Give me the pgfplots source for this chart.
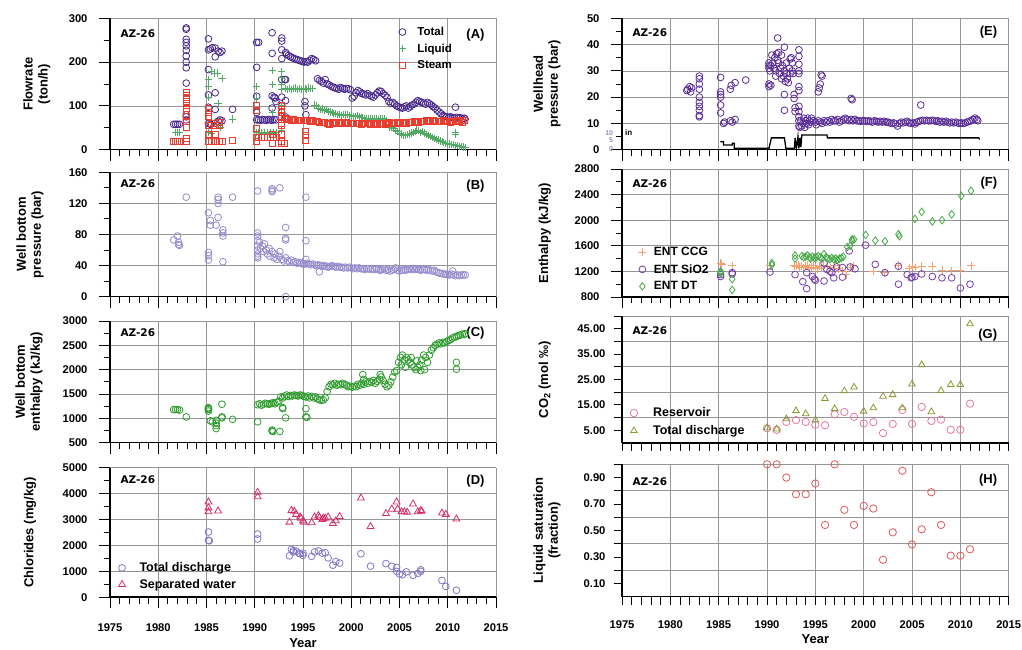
\documentclass[border=0pt]{standalone}
\usepackage{fontspec}
\setmainfont{Liberation Sans}
\newfontfamily\azfont{DejaVu Sans}
\usepackage{pgfplots}
\pgfplotsset{compat=1.18}
\definecolor{cTot}{RGB}{72,40,140}
\definecolor{cLiq}{RGB}{80,170,100}
\definecolor{cSteam}{RGB}{235,60,45}
\definecolor{cLav}{RGB}{150,140,205}
\definecolor{cGrn}{RGB}{45,155,45}
\definecolor{cCl}{RGB}{130,120,200}
\definecolor{cSep}{RGB}{215,45,100}
\definecolor{cE}{RGB}{90,45,150}
\definecolor{cCCG}{RGB}{245,160,110}
\definecolor{cSiO}{RGB}{120,60,170}
\definecolor{cDT}{RGB}{70,170,70}
\definecolor{cRes}{RGB}{230,120,160}
\definecolor{cTD}{RGB}{140,150,50}
\definecolor{cH}{RGB}{225,90,90}
\definecolor{cGrid}{RGB}{150,150,150}
\newcommand{\tl}{\fontsize{11.2}{13}\selectfont\bfseries}
\pgfplotsset{
  every non boxed x axis/.style={},
  every non boxed y axis/.style={},
  panel/.style={
    scale only axis, width=386pt,
    xmin=1975, xmax=2015, enlargelimits=false,
    axis lines=left,
    axis line style={line width=1.6pt,-},
    tick align=outside,
    xtick={1975,1980,...,2015}, minor x tick num=4,
    major tick length=11pt, minor tick length=6.5pt,
    tick style={black, line width=0.9pt},
    xmajorgrids, ymajorgrids,
    grid style={cGrid, line width=0.6pt},
    minor grid style={cGrid, line width=0.6pt},
    tick label style={font=\tl},
    yticklabel style={xshift=-8pt},
    xticklabel style={yshift=-12pt},
    /pgf/number format/assume math mode=true,
    /pgf/number format/1000 sep={},
    scaled ticks=false,
    label style={font=\fontsize{13}{15}\selectfont\bfseries, align=center},
    clip=false,
    legend cell align=left,
  },
  nox/.style={xticklabels={}},
  ylab/.style={ylabel style={at={(axis description cs:#1,0.5)}, anchor=center}},
  circ/.style={only marks, mark=o, mark size=3.4pt},
  leg/.style n args={5}{legend style={draw=none, fill=none, at={(axis description cs:#1,#2)}, anchor=north west,
    font=\fontsize{#3}{14}\selectfont\bfseries, row sep=#4,
    nodes={inner xsep=#5}}},
}
\newcommand{\tags}[3]{%
  \node[anchor=west, font=\azfont\fontsize{10.5}{12}\selectfont\bfseries] at ([xshift=7pt,yshift=-#2pt]rel axis cs:0,1) {AZ-26};
  \node[anchor=east, font=\fontsize{13}{15}\selectfont\bfseries] at ([xshift=-8pt,yshift=-#3pt]rel axis cs:1,1) {(#1)};
}
\begin{document}
\begin{tikzpicture}
\useasboundingbox (0,0) rectangle (1022pt,650pt);

% ---------------- (A)
\begin{axis}[panel, nox, at={(110pt,500.3pt)}, anchor=south west, height=131.4pt,
  ymin=0, ymax=300, ytick={0,100,200,300}, minor ytick={50,150,250},
  ylabel={Flowrate\\(ton/h)}, ylab=-0.19,
  leg={0.74}{0.965}{11.5}{3pt}{11.3pt}]
\addplot[circ, color=cTot, mark options={draw=cTot, line width=0.8pt}] coordinates {
(1981.6,58)(1981.8,58)(1982.0,58)(1982.2,58)
(1982.9,278)(1982.9,275)(1982.9,252)(1982.9,245)(1982.9,237)(1982.9,227)(1982.9,214)(1982.9,200)(1982.9,187)(1982.9,152)(1982.9,80)(1982.9,75)(1982.9,68)
(1985.2,253)(1985.2,228)(1985.2,183)(1985.2,125)(1985.2,97)(1985.2,60)
(1985.4,230)(1985.4,58)(1985.6,233)
(1985.9,232)(1985.9,212)(1985.9,130)(1985.9,92)(1985.9,60)
(1986.2,225)(1986.2,65)(1986.4,222)(1986.4,68)(1986.6,225)(1986.6,66)
(1987.7,92)
(1990.2,245)(1990.2,188)(1990.2,122)(1990.2,85)(1990.2,68)
(1990.4,245)(1990.4,68)(1990.6,67)(1990.8,69)(1991.0,68)(1991.2,67)(1991.4,69)(1991.6,68)(1991.8,67)(1992.0,69)(1992.2,68)
(1991.8,267)(1991.8,220)(1991.8,123)(1991.8,95)
(1992.0,120)(1992.1,118)(1992.2,110)
(1992.8,255)(1992.8,248)(1992.8,228)(1992.8,208)(1992.8,160)(1992.8,120)(1992.8,100)(1992.8,85)
(1993.1,160)(1993.2,222)(1993.2,160)(1993.2,112)(1993.2,75)
(1995.2,110)(1995.2,100)(1995.3,80)
(1993.3,218)(1993.5,215)(1993.7,212)(1993.9,210)(1994.1,208)(1994.3,206)(1994.5,205)(1994.7,203)(1994.9,202)(1995.1,200)(1995.3,201)(1995.5,200)(1995.7,204)(1995.9,208)(1996.1,206)(1996.3,203)
(1996.5,162)(1996.7,158)(1996.9,156)(1997.1,152)(1997.3,160)(1997.5,150)(1997.7,148)(1997.9,145)(1998.1,143)(1998.3,141)(1998.5,140)(1998.7,138)(1998.9,142)(1999.1,140)(1999.3,138)(1999.5,140)(1999.7,139)(1999.9,137)
(2000.1,118)(2000.3,122)(2000.5,130)(2000.7,135)(2000.9,132)(2001.1,128)(2001.3,127)(2001.5,125)(2001.7,128)(2001.9,124)(2002.1,122)(2002.3,120)(2002.5,125)(2002.7,130)(2002.9,134)(2003.1,133)(2003.3,128)(2003.5,124)(2003.7,120)(2003.9,110)
(2004.1,106)(2004.3,108)(2004.5,104)(2004.7,100)(2004.9,98)(2005.1,96)(2005.3,95)(2005.5,98)(2005.7,100)(2005.9,95)(2006.1,98)(2006.3,102)(2006.5,104)(2006.7,108)(2006.9,112)(2007.1,110)(2007.3,108)(2007.5,106)(2007.7,104)(2007.9,108)
(2008.1,105)(2008.3,102)(2008.5,98)(2008.7,95)(2008.9,90)(2009.1,86)(2009.3,82)(2009.5,78)(2009.7,76)(2009.9,75)(2010.1,74)(2010.3,75)(2010.5,73)(2010.7,72)(2010.8,97)(2010.9,74)(2011.1,72)(2011.3,73)(2011.5,71)(2011.7,72)(2011.8,70)
};
\addlegendentry{Total}
\addplot[only marks, mark=+, mark size=3.6pt, color=cLiq, mark options={draw=cLiq, line width=0.8pt}] coordinates {
(1981.8,40)(1982.0,40)(1982.2,40)
(1985.2,160)(1985.2,145)(1985.2,120)(1985.2,40)
(1985.5,178)(1985.5,38)(1985.8,175)(1986.1,175)(1986.6,163)
(1986.2,105)(1986.2,58)(1986.4,50)(1987.7,70)
(1990.2,145)(1990.2,118)(1990.2,40)
(1990.4,40)(1990.7,38)(1991.0,40)(1991.3,38)(1991.6,40)(1991.9,38)(1992.2,40)
(1991.8,180)(1991.8,148)(1991.8,85)
(1992.8,178)(1992.8,165)(1992.8,150)(1992.8,138)(1992.8,100)(1992.8,85)(1992.8,45)
(1993.2,140)(1993.2,75)
(1993.4,138)(1993.6,140)(1993.8,137)(1994.0,139)(1994.2,141)(1994.4,138)(1994.6,140)(1994.8,138)(1995.0,139)(1995.2,140)(1995.4,138)(1995.6,141)(1995.8,140)(1996.0,139)
(1996.2,102)(1996.4,100)(1996.6,95)(1996.8,92)(1997.0,93)(1997.2,90)(1997.4,92)(1997.6,88)(1997.8,86)(1998.0,85)(1998.2,83)(1998.4,82)(1998.6,80)(1998.8,80)(1999.0,78)(1999.2,80)(1999.4,79)(1999.6,80)(1999.8,78)
(2000.0,78)(2000.2,76)(2000.4,75)(2000.6,78)(2000.8,76)(2001.0,74)(2001.2,73)(2001.4,72)(2001.6,72)(2001.8,70)(2002.0,71)(2002.2,70)(2002.4,72)(2002.6,70)(2002.8,69)(2003.0,70)(2003.2,71)(2003.4,70)(2003.6,66)(2003.8,58)
(2004.0,52)(2004.2,50)(2004.4,48)(2004.6,45)(2004.8,42)(2005.0,38)(2005.2,36)(2005.4,32)(2005.6,33)(2005.8,35)(2006.0,36)(2006.2,38)(2006.4,40)(2006.6,42)(2006.8,45)(2007.0,44)(2007.2,40)(2007.4,42)(2007.6,38)(2007.8,35)
(2008.0,32)(2008.2,30)(2008.4,28)(2008.6,26)(2008.8,24)(2009.0,22)(2009.2,20)(2009.4,18)(2009.6,17)(2009.8,15)(2010.0,14)(2010.2,13)(2010.4,12)(2010.6,11)(2010.8,10)(2011.0,9)(2011.2,8)(2011.4,7)(2011.6,6)(2011.8,5)
(2010.8,40)(2010.8,35)
};
\addlegendentry{Liquid}
\addplot[only marks, mark=square, mark size=3pt, color=cSteam, mark options={draw=cSteam, line width=0.8pt},
  legend image code/.code={\draw[draw=cSteam, line width=0.8pt] (0.3cm-3pt,-3pt) rectangle (0.3cm+3pt,3pt);}] coordinates {
(1981.6,20)(1981.8,20)(1982.0,20)(1982.2,20)
(1982.9,130)(1982.9,125)(1982.9,120)(1982.9,115)(1982.9,110)(1982.9,105)(1982.9,100)(1982.9,95)(1982.9,75)(1982.9,65)(1982.9,50)(1982.9,25)(1982.9,20)
(1985.2,95)(1985.2,85)(1985.2,75)(1985.2,55)(1985.2,35)(1985.2,20)
(1985.5,60)(1985.5,18)(1985.9,55)(1985.9,35)(1985.9,20)(1986.3,62)(1986.3,55)(1986.3,18)(1986.6,20)
(1987.7,22)
(1990.2,100)(1990.2,90)(1990.2,48)(1990.2,28)(1990.2,20)
(1990.4,28)(1990.7,27)(1991.0,28)(1991.3,27)(1991.6,28)(1991.9,27)(1992.2,28)
(1991.8,35)(1991.8,15)
(1992.8,100)(1992.8,92)(1992.8,85)(1992.8,75)(1992.8,60)(1992.8,55)(1992.8,35)(1992.8,20)(1992.8,15)
(1993.1,70)(1993.1,15)
(1995.2,41)(1995.2,33)(1995.3,22)
(1993.3,72)(1993.5,70)(1993.75,68)(1994.0,70)(1994.25,68)(1994.5,67)(1994.75,68)(1995.0,66)(1995.25,67)(1995.5,66)(1995.75,65)(1996.0,66)(1996.25,65)(1996.5,64)(1996.75,63)(1997.0,63)(1997.25,62)(1997.5,60)(1997.75,58)
(1998.0,62)(1998.25,61)(1998.5,60)(1998.75,62)(1999.0,60)(1999.25,61)(1999.5,62)(1999.75,60)(2000.0,61)(2000.25,60)(2000.5,59)(2000.75,60)(2001.0,58)(2001.25,60)(2001.5,59)(2001.75,60)(2002.0,58)(2002.25,59)(2002.5,60)(2002.75,58)
(2003.0,59)(2003.25,60)(2003.5,58)(2003.75,60)(2004.0,62)(2004.25,60)(2004.5,61)(2004.75,62)(2005.0,60)(2005.25,61)(2005.5,62)(2005.75,60)(2006.0,62)(2006.25,63)(2006.5,64)(2006.75,65)(2007.0,63)(2007.25,65)(2007.5,64)(2007.75,66)
(2008.0,65)(2008.25,64)(2008.5,66)(2008.75,65)(2009.0,64)(2009.25,65)(2009.5,66)(2009.75,64)(2010.0,65)(2010.25,63)(2010.5,65)(2010.75,64)(2011.0,66)(2011.25,65)(2011.5,63)(2011.75,66)
};
\addlegendentry{Steam}
\tags{A}{15}{17}
\end{axis}

% ---------------- (B)
\begin{axis}[panel, nox, at={(110pt,353.3pt)}, anchor=south west, height=124.4pt,
  ymin=0, ymax=160, ytick={0,40,80,120,160}, minor ytick={20,60,100,140},
  ylabel={Well bottom\\pressure (bar)}, ylab=-0.207]
\addplot[circ, color=cLav, mark options={draw=cLav, line width=0.8pt}] coordinates {
(1981.6,73)(1982.0,78)(1982.1,70)(1982.1,67)(1982.2,66)(1982.9,128)
(1985.2,108)(1985.2,57)(1985.2,53)(1985.2,47)(1985.4,98)(1985.4,92)(1986.0,92)
(1986.2,128)(1986.2,125)(1986.2,120)(1986.2,102)(1986.7,86)(1986.7,82)(1986.7,78)(1986.7,45)(1987.7,128)
(1990.3,136)(1990.3,82)(1990.3,78)(1990.3,72)(1990.3,65)(1990.3,60)(1990.3,55)(1990.3,52)(1990.3,50)
(1991.8,139)(1991.8,137)(1991.8,135)(1992.6,140)
(1993.2,89)(1993.2,75)(1993.2,73)(1993.2,50)(1993.2,0)
(1995.3,128)(1995.3,72)(1995.3,48)(1996.7,32)
(1990.5,70)(1990.6,62)(1990.8,65)(1990.9,58)(1991.0,68)(1991.2,60)(1991.3,55)(1991.5,62)(1991.6,52)(1991.8,58)(1992.0,50)(1992.1,55)(1992.3,48)(1992.5,52)(1992.6,58)(1992.8,48)
(1993.0,46)(1993.4,46)(1993.6,45)(1993.8,47)(1994.0,44)(1994.2,45)(1994.4,43)(1994.6,44)(1994.8,43)(1995.0,42)(1995.2,42)(1995.4,43)(1995.6,42)(1995.8,41)(1996.0,42)(1996.2,41)(1996.4,40)(1996.6,41)(1996.8,40)
(1997.0,39)(1997.2,40)(1997.4,39)(1997.6,38)(1997.8,39)(1998.0,40)(1998.2,39)(1998.4,38)(1998.6,39)(1998.8,38)(1999.0,38)(1999.2,37)(1999.4,38)(1999.6,37)(1999.8,38)(2000.0,37)(2000.2,36)(2000.4,37)(2000.6,36)(2000.8,37)
(2001.0,36)(2001.2,36)(2001.4,35)(2001.6,36)(2001.8,36)(2002.0,35)(2002.2,36)(2002.4,35)(2002.6,36)(2002.8,35)(2003.0,34)(2003.2,35)(2003.4,36)(2003.6,34)(2003.8,35)(2004.0,33)(2004.2,34)(2004.4,35)(2004.6,37)(2004.8,34)
(2005.0,33)(2005.2,34)(2005.4,35)(2005.6,34)(2005.8,35)(2006.0,36)(2006.2,35)(2006.4,36)(2006.6,35)(2006.8,36)(2007.0,35)(2007.2,34)(2007.4,35)(2007.6,35)(2007.8,34)(2008.0,35)(2008.2,34)(2008.4,33)(2008.6,34)(2008.8,32)
(2009.0,31)(2009.2,30)(2009.4,30)(2009.6,29)(2009.8,29)(2010.0,28)(2010.2,28)(2010.4,29)(2010.5,33)(2010.6,28)(2010.8,27)(2011.0,28)(2011.2,27)(2011.4,28)(2011.6,28)(2011.8,28)
};
\tags{B}{11}{14}
\end{axis}

% ---------------- (C)
\begin{axis}[panel, nox, at={(110pt,207.3pt)}, anchor=south west, height=121.7pt,
  ymin=500, ymax=3000, ytick={500,1000,...,3000}, minor ytick={750,1250,1750,2250,2750},
  ylabel={Well bottom\\enthalpy (kJ/kg)}, ylab=-0.21]
\addplot[circ, color=cGrn, mark options={draw=cGrn, line width=0.8pt}] coordinates {
(1981.6,1180)(1981.8,1180)(1982.0,1180)(1982.2,1170)(1982.9,1030)
(1985.2,1220)(1985.2,1200)(1985.2,1180)(1985.2,1150)(1985.4,950)(1985.6,930)
(1986.0,960)(1986.0,900)(1986.0,850)(1986.0,790)(1986.6,1290)(1986.6,1030)(1986.6,1010)(1987.7,980)
(1990.3,930)(1991.8,760)(1991.8,740)(1991.9,730)(1992.6,730)(1992.9,1220)(1992.9,1200)(1993.2,1010)
(1995.3,1200)(1995.3,1030)(1995.4,1020)(2001.2,1900)(2001.3,1800)(2010.9,2150)(2010.9,2010)
(1990.3,1280)(1990.5,1300)(1990.7,1270)(1990.9,1290)(1991.1,1310)(1991.3,1300)(1991.5,1290)(1991.7,1310)(1991.9,1320)(1992.1,1300)(1992.3,1330)(1992.5,1350)(1992.7,1440)(1992.9,1420)
(1993.1,1460)(1993.3,1480)(1993.5,1450)(1993.7,1470)(1993.9,1460)(1994.1,1480)(1994.3,1470)(1994.5,1460)(1994.7,1480)(1994.9,1470)(1995.1,1450)(1995.3,1440)(1995.5,1460)(1995.7,1420)(1995.9,1450)
(1996.1,1420)(1996.3,1440)(1996.5,1400)(1996.7,1380)(1996.9,1370)(1997.1,1380)(1997.3,1420)(1997.5,1550)(1997.7,1650)(1997.9,1700)(1998.1,1690)(1998.3,1720)(1998.5,1680)(1998.7,1700)(1998.9,1690)
(1999.1,1720)(1999.3,1700)(1999.5,1680)(1999.7,1650)(1999.9,1660)(2000.1,1640)(2000.3,1660)(2000.5,1650)(2000.7,1700)(2000.9,1680)(2001.1,1720)(2001.3,1700)(2001.5,1750)(2001.7,1720)(2001.9,1760)
(2002.1,1740)(2002.3,1780)(2002.5,1720)(2002.7,1760)(2002.9,1800)(2003.0,1900)(2003.1,1850)(2003.3,1780)(2003.5,1700)(2003.7,1650)(2003.9,1680)(2004.1,1750)(2004.3,1850)(2004.5,1950)(2004.7,1980)(2004.9,2150)
(2005.1,2250)(2005.2,2100)(2005.3,2300)(2005.5,2200)(2005.6,2050)(2005.7,2250)(2005.9,2200)(2006.1,2150)(2006.2,2250)(2006.3,2100)(2006.5,2050)(2006.7,2000)(2006.8,2180)(2006.9,2050)
(2007.1,2100)(2007.2,1980)(2007.3,2200)(2007.5,2300)(2007.6,2000)(2007.7,2250)(2007.9,2150)(2008.1,2300)(2008.3,2400)(2008.5,2450)(2008.7,2500)(2008.9,2520)
(2009.1,2550)(2009.3,2530)(2009.5,2560)(2009.7,2550)(2009.9,2580)(2010.1,2600)(2010.3,2620)(2010.5,2650)(2010.7,2670)(2010.9,2680)(2011.1,2700)(2011.3,2710)(2011.5,2730)(2011.7,2720)(2011.8,2740)
};
\tags{C}{12}{12}
\end{axis}

% ---------------- (D)
\begin{axis}[panel, at={(110pt,52.7pt)}, anchor=south west, height=129.6pt,
  ymin=0, ymax=5000, ytick={0,1000,...,5000}, minor ytick={500,1500,2500,3500,4500},
  ylabel={Chlorides (mg/kg)}, ylab=-0.207, xlabel={Year},
  leg={0.014}{0.30}{12.5}{2pt}{14pt}]
\addplot[circ, color=cCl, mark options={draw=cCl, line width=0.8pt}] coordinates {
(1985.2,2520)(1985.2,2200)(1985.3,2180)(1990.3,2440)(1990.3,2250)
(1993.6,1600)(1993.8,1850)(1994.0,1800)(1994.0,1750)(1994.3,1780)(1994.6,1700)(1994.7,1680)(1995.0,1620)(1995.0,1700)
(1995.9,1580)(1996.2,1750)(1996.6,1790)(1997.0,1700)(1997.3,1720)(1997.6,1520)(1998.1,1240)(1998.4,1380)(1998.8,1320)
(2001.0,1680)(2002.0,1200)(2003.6,1300)(2004.2,1200)(2004.7,1150)(2004.7,1000)(2005.0,900)(2005.3,870)(2005.7,980)(2006.4,850)(2006.9,920)(2007.2,1000)(2007.2,1060)
(2009.4,650)(2009.8,420)(2010.9,270)
};
\addlegendentry{Total discharge}
\addplot[only marks, mark=triangle, mark size=4pt, color=cSep, mark options={draw=cSep, line width=0.8pt}] coordinates {
(1985.2,3680)(1985.2,3450)(1985.2,3300)(1986.2,3330)(1990.3,4050)(1990.3,3880)
(1993.6,2900)(1993.8,3350)(1994.1,3320)(1994.3,3200)(1994.7,3100)(1994.8,3050)(1995.0,2950)(1995.1,2900)
(1995.9,2880)(1996.2,3100)(1996.6,3150)(1996.7,3080)(1997.0,3000)(1997.1,3050)(1997.3,3050)(1997.6,3100)(1998.1,2850)(1998.4,2950)(1998.8,3120)
(2001.0,3830)(2002.0,2730)(2003.6,3230)(2004.2,3400)(2004.7,3680)(2004.8,3400)(2005.2,3300)(2005.5,3300)(2005.8,3280)(2006.4,3600)(2006.9,3300)(2007.2,3350)(2007.3,3320)
(2009.4,3250)(2009.8,3200)(2010.9,3020)
};
\addlegendentry{Separated water}
\tags{D}{12}{13}
\end{axis}

% ---------------- (E)
\begin{axis}[panel, nox, at={(622pt,500.3pt)}, anchor=south west, height=131.4pt, width=386.7pt,
  ymin=0, ymax=50, ytick={0,10,...,50}, minor ytick={5,15,25,35,45},
  ylabel={Wellhead\\pressure (bar)}, ylab=-0.194]
\addplot[circ, color=cE, mark options={draw=cE, line width=0.8pt}] coordinates {
(1981.7,22.5)(1981.8,23)(1982.0,24)(1982.1,22)(1982.2,23.5)
(1983.0,28)(1983.0,27)(1983.0,25)(1983.0,23)(1983.0,20)(1983.0,18)(1983.0,16.5)(1983.0,15)(1983.0,13)(1983.0,12.5)
(1985.2,27.5)(1985.2,22)(1985.2,21)(1985.2,20)(1985.2,17)(1985.2,14)(1985.5,10)(1985.6,10.5)
(1986.2,23)(1986.3,24.5)(1986.2,11)(1986.4,10.5)(1986.7,25.5)(1986.7,11.5)(1987.8,26.5)
(1990.2,24)(1990.2,25)(1990.2,31)(1990.2,33)(1990.2,32)
(1990.3,30)(1990.4,32)(1990.5,36)(1990.6,33)(1990.7,31)(1990.8,35)(1990.9,30)(1991.0,36.5)(1991.1,42.5)(1991.1,34)(1991.2,33)(1991.3,29)(1991.4,31)(1991.5,27)(1991.5,36)(1991.6,32)(1991.7,28)
(1991.8,39)(1991.8,30)(1991.9,26)(1992.0,29)(1992.0,33)(1992.1,27)(1992.2,25.5)(1992.3,31)(1992.4,29)(1992.5,35)(1992.6,33)(1992.6,30)(1992.7,29)(1991.8,21)(1991.8,15)(1990.4,24.5)(1990.9,28)(1991.2,37)(1992.4,34.5)
(1992.8,21)(1992.8,19.5)(1992.9,16)(1992.9,14.5)
(1993.3,38)(1993.3,35.5)(1993.3,32.5)(1993.3,30)(1993.3,29)(1993.3,24)(1993.3,22.5)(1993.3,16.5)(1993.3,14.5)(1993.3,12.5)(1993.3,11)(1993.3,9)(1993.4,8.5)
(1995.3,22)(1995.4,23.5)(1995.5,25)(1995.6,28.5)(1995.7,28)(1995.1,9.5)(1998.7,19.5)(1998.8,19)(2005.9,17)
(1993.5,11)(1993.6,9)(1993.7,10)(1993.8,12)(1993.9,8.5)(1994.0,11)(1994.1,10)(1994.2,12)(1994.3,9.5)(1994.4,11)(1994.5,10.5)(1994.6,12)(1994.8,11)(1995.0,10.5)(1995.3,11)(1995.5,10.5)(1995.7,10)(1995.9,11)
(1996.1,10.5)(1996.3,11)(1996.5,10.5)(1996.7,11.5)(1996.9,11)(1997.1,11)(1997.3,11.5)(1997.5,10.5)(1997.7,11)(1997.9,11.5)(1998.1,12)(1998.3,11.5)(1998.5,11)(1998.7,11.5)(1998.9,11)
(1999.1,11.5)(1999.3,11)(1999.5,11)(1999.7,10.8)(1999.9,11)(2000.1,11)(2000.3,10.8)(2000.5,11)(2000.7,10.8)(2000.9,10.5)(2001.1,11)(2001.3,10.8)(2001.5,10.5)(2001.7,10.8)(2001.9,10.5)
(2002.1,10.8)(2002.3,10.5)(2002.5,10.5)(2002.7,10.2)(2002.9,10)(2003.1,10.2)(2003.3,9.8)(2003.5,9)(2003.7,10)(2003.9,10.5)(2004.1,10.2)(2004.3,10.5)(2004.5,10.8)(2004.7,10.2)(2004.9,10)
(2005.1,10.2)(2005.3,9.8)(2005.5,10.5)(2005.7,10.8)(2005.9,11)(2006.1,11.2)(2006.3,11)(2006.5,11.2)(2006.7,11)(2006.9,11)(2007.1,11.2)(2007.3,11)(2007.5,10.8)(2007.7,11)(2007.9,10.5)
(2008.1,10.8)(2008.3,10.5)(2008.5,10.8)(2008.7,10.5)(2008.9,10.2)(2009.1,10.5)(2009.3,10.2)(2009.5,10.5)(2009.7,10.2)(2009.9,10)(2010.1,10.2)(2010.3,10)(2010.5,10.2)(2010.7,10.5)(2010.9,10.8)
(2011.1,11)(2011.3,11.5)(2011.5,12)(2011.7,11.5)(2011.8,11)
};
\addplot[black, line width=1.3pt, mark=none] coordinates {
(1985.17,3.0)(1985.5,3.0)(1985.5,1.8)(1986.4,1.8)(1986.4,2.4)(1986.6,2.4)(1986.6,0.5)(1990.2,0.5)(1990.45,4.5)(1991.8,4.5)(1991.95,0.5)(1992.85,0.5)(1992.9,4.5)(1993.05,0.5)(1993.2,5.0)(1993.3,0.5)(1993.4,4.5)(1993.5,1.0)(1993.6,5.6)(1996.2,5.6)(1996.25,4.5)(2011.9,4.5)(2012.0,3.9)
};
\node[anchor=east, font=\fontsize{7}{8}\selectfont\bfseries, text=cLav, inner sep=0pt] at (axis cs:1974.1,6.47) {10};
\node[anchor=east, font=\fontsize{7}{8}\selectfont\bfseries, text=cLav, inner sep=0pt] at (axis cs:1974.1,3.7) {5};
\node[anchor=east, font=\fontsize{7}{8}\selectfont\bfseries, text=cLav, inner sep=0pt] at (axis cs:1974.1,0.2) {0};
\node[anchor=west, font=\fontsize{8}{9}\selectfont\bfseries, inner sep=0pt] at (axis cs:1975.3,6.6) {in};
\tags{E}{14}{14}
\end{axis}

% ---------------- (F)
\begin{axis}[panel, nox, at={(622pt,353pt)}, anchor=south west, height=128pt, width=386.7pt,
  ymin=800, ymax=2800, ytick={800,1200,...,2800}, minor ytick={1000,1400,1800,2200,2600},
  ylabel={Enthalpy (kJ/kg)}, ylab=-0.20,
  leg={0.034}{0.42}{12}{3pt}{7.5pt}]
\addplot[only marks, mark=+, mark size=4pt, color=cCCG, mark options={draw=cCCG, line width=0.8pt}] coordinates {
(1985.2,1330)(1985.3,1310)(1986.4,1290)(1990.3,1290)
(1992.8,1290)(1993.0,1280)(1993.2,1300)(1993.4,1270)(1993.6,1290)(1993.8,1260)(1994.0,1280)(1994.2,1300)(1994.4,1250)(1994.6,1270)(1994.8,1290)(1995.0,1260)(1995.2,1240)(1995.4,1280)(1995.6,1250)(1995.8,1300)
(1996.2,1280)(1996.6,1260)(1997.0,1290)(1997.4,1240)(1997.8,1200)(1998.2,1150)(1998.6,1260)(1998.9,1290)
(2001.0,1200)(2002.1,1180)(2003.6,1300)(2004.7,1250)(2005.0,1280)(2005.3,1260)(2006.0,1280)(2007.1,1280)(2008.1,1220)(2009.1,1210)(2010.0,1220)(2011.1,1290)
};
\addlegendentry{ENT CCG}
\addplot[circ, color=cSiO, mark options={draw=cSiO, line width=0.8pt}] coordinates {
(1985.2,1120)(1985.2,1150)(1986.4,1180)(1986.4,1160)(1990.3,1190)(1992.9,1150)(1993.7,1040)(1994.1,1180)(1994.1,930)
(1994.7,1120)(1994.9,1080)(1995.0,1060)(1995.9,1050)(1995.9,1330)(1996.2,1230)(1996.5,1200)(1996.7,1180)(1996.9,1100)(1997.2,1270)(1997.8,1260)(1997.8,1110)
(1998.5,1520)(1998.6,1270)(1999.1,1240)(2000.2,1610)(2001.2,1310)(2002.2,1180)(2003.6,1000)(2003.6,1280)(2004.5,1150)(2004.9,1100)(2005.0,1110)(2005.3,1120)(2006.0,1160)
(2007.1,1120)(2008.1,1100)(2009.1,1100)(2010.0,940)(2011.0,1000)
};
\addlegendentry{ENT SiO2}
\addplot[only marks, mark=diamond, mark size=3.8pt, color=cDT, mark options={draw=cDT, line width=0.8pt}] coordinates {
(1985.2,1200)(1985.2,1190)(1985.2,1170)(1986.4,1080)(1986.4,910)(1990.5,1330)(1990.5,1300)(1992.9,1450)(1992.9,1400)
(1993.6,1440)(1993.8,1420)(1994.0,1430)(1994.2,1450)(1994.4,1420)(1994.5,1400)(1994.7,1430)(1994.9,1410)(1995.1,1420)(1995.3,1440)(1995.5,1420)(1995.7,1400)(1995.9,1470)
(1996.1,1420)(1996.3,1400)(1996.5,1390)(1996.7,1410)(1996.9,1390)(1997.1,1400)(1997.3,1380)(1997.5,1400)(1997.7,1410)(1997.9,1430)
(1998.3,1580)(1998.6,1600)(1998.8,1700)(1998.8,1680)(1999.0,1700)(2000.2,1770)(2001.2,1680)(2002.2,1670)(2003.6,1780)(2003.7,1750)
(2005.3,2020)(2006.0,2130)(2007.1,1980)(2008.1,2000)(2009.1,2090)(2010.1,2380)(2011.1,2460)
};
\addlegendentry{ENT DT}
\tags{F}{15}{14}
\end{axis}

% ---------------- (G)
\begin{axis}[panel, nox, at={(622pt,207pt)}, anchor=south west, height=127pt, width=386.7pt,
  ymin=0, ymax=50, ytick={5,15,25,35,45}, minor ytick={10,20,30,40,50},
  ymajorgrids=false, yminorgrids=true,
  major tick length=8pt, minor tick length=8pt,
  yticklabel style={xshift=3pt, /pgf/number format/fixed, /pgf/number format/fixed zerofill, /pgf/number format/precision=2},
  ylabel={CO\textsubscript{2} (mol ‰)}, ylab=-0.20,
  leg={0.013}{0.31}{12.5}{3pt}{15.5pt}]
\addplot[only marks, mark=o, mark size=3.7pt, color=cRes, mark options={draw=cRes, line width=0.8pt}] coordinates {
(1990,5.8)(1991,5.2)(1992,8.3)(1993,9.0)(1994,8.3)(1995,7.2)(1996,7.0)(1997,11.3)(1998,12.2)(1999,10.3)(2000,7.7)
(2001,8.2)(2002,3.9)(2003,7.5)(2004,13.0)(2005,7.5)(2006,14.2)(2007,8.7)(2008,9.2)(2009,5.2)(2010,5.2)(2011,15.5)
};
\addlegendentry{Reservoir}
\addplot[only marks, mark=triangle, mark size=3.8pt, color=cTD, mark options={draw=cTD, line width=0.8pt}] coordinates {
(1990,6.0)(1991,5.5)(1992,9.5)(1993,12.7)(1994,11.5)(1995,9.0)(1996,17.5)(1997,13.5)(1998,20.5)(1999,22.0)(2000,12.5)
(2001,13.8)(2002,18.4)(2003,19.0)(2004,13.8)(2005,23.2)(2006,30.8)(2007,12.3)(2008,20.6)(2009,23.0)(2010,23.0)(2011,46.9)
};
\addlegendentry{Total discharge}
\tags{G}{15}{19}
\end{axis}

% ---------------- (H)
\begin{axis}[panel, at={(622pt,53.3pt)}, anchor=south west, height=132.4pt, width=386.7pt,
  ymin=0, ymax=1, ytick={0.1,0.3,0.5,0.7,0.9}, minor ytick={0.2,0.4,0.6,0.8,1.0},
  ymajorgrids=false, yminorgrids=true,
  major tick length=8pt, minor tick length=8pt,
  yticklabel style={xshift=3pt, /pgf/number format/fixed, /pgf/number format/fixed zerofill, /pgf/number format/precision=2},
  ylabel={Liquid saturation\\(fraction)}, ylab=-0.194, xlabel={Year}]
\addplot[only marks, mark=o, mark size=3.7pt, color=cH, mark options={draw=cH, line width=0.8pt}] coordinates {
(1990,1.0)(1991,1.0)(1992,0.90)(1993,0.774)(1994,0.774)(1995,0.855)(1996,0.542)(1997,1.0)(1998,0.656)(1999,0.542)(2000,0.686)
(2001,0.666)(2002,0.279)(2003,0.486)(2004,0.951)(2005,0.395)(2006,0.509)(2007,0.789)(2008,0.542)(2009,0.31)(2010,0.31)(2011,0.358)
};
\tags{H}{17}{16}
\end{axis}
\end{tikzpicture}
\end{document}
